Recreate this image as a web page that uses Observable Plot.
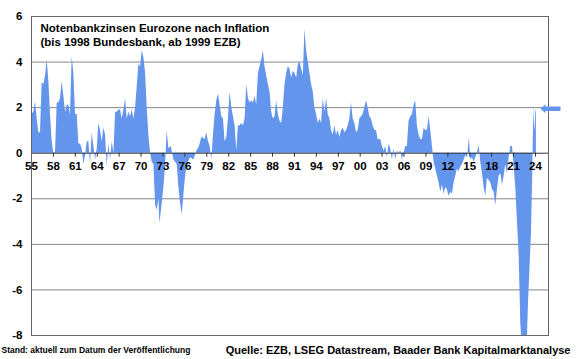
<!DOCTYPE html>
<html>
<head>
<meta charset="utf-8">
<script src="https://cdn.jsdelivr.net/npm/d3@7"></script>
<script src="https://cdn.jsdelivr.net/npm/@observablehq/plot@0.6"></script>
<style>
  html, body { margin: 0; padding: 0; background: #fff; }
</style>
</head>
<body>
<div id="chart"></div>
<script>
const titleLines = ["Notenbankzinsen Eurozone nach Inflation", "(bis 1998 Bundesbank, ab 1999 EZB)"];
const footLeft = "Stand: aktuell zum Datum der Veröffentlichung";
const footRight = "Quelle: EZB, LSEG Datastream, Baader Bank Kapitalmarktanalyse";

const tickYears = [1955,1958,1961,1964,1967,1970,1973,1976,1979,1982,1985,1988,1991,1994,1997,2000,2003,2006,2009,2012,2015,2018,2021,2024];
const tickLabels = ["55","58","61","64","67","70","73","76","79","82","85","88","91","94","97","00","03","06","09","12","15","18","21","24"];
const yTicks = [-8,-6,-4,-2,0,2,4,6];
const gridValues = [-6,-4,-2,2,4];
const currentRate = 1.95;

const years = [
1955.00,1955.32,1955.55,1955.78,1956.00,1956.23,1956.46,1956.69,1956.92,1957.15,1957.37,1957.60,1957.83,
1958.06,1958.29,1958.52,1958.74,1958.97,1959.20,1959.43,1959.66,1959.89,1960.11,1960.34,1960.57,1960.80,
1961.03,1961.26,1961.48,1961.71,1961.94,1962.17,1962.40,1962.63,1962.85,1963.08,1963.31,1963.54,1963.77,
1964.00,1964.22,1964.45,1964.68,1964.91,1965.14,1965.37,1965.59,1965.82,1966.05,1966.28,1966.51,1966.74,
1966.96,1967.19,1967.42,1967.65,1967.88,1968.10,1968.33,1968.56,1968.79,1969.02,1969.25,1969.47,1969.70,
1969.93,1970.16,1970.39,1970.62,1970.84,1971.07,1971.30,1971.53,1971.76,1971.99,1972.21,1972.44,1972.58,
1972.90,1973.13,1973.36,1973.58,1973.81,1974.13,1974.50,1974.95,1975.18,1975.41,1975.64,1975.87,1976.10,
1976.32,1976.78,1977.24,1977.64,1978.00,1978.32,1978.78,1979.00,1979.23,1979.46,1979.69,1979.91,1980.14,
1980.37,1980.60,1980.82,1981.05,1981.28,1981.51,1981.74,1981.96,1982.19,1982.42,1982.65,1982.87,1983.10,
1983.33,1983.56,1983.78,1984.01,1984.24,1984.47,1984.70,1984.92,1985.15,1985.38,1985.61,1985.83,1986.06,
1986.29,1986.52,1986.74,1986.97,1987.20,1987.43,1987.65,1987.88,1988.11,1988.34,1988.57,1988.79,1989.02,
1989.25,1989.48,1989.70,1989.93,1990.16,1990.39,1990.61,1990.84,1991.07,1991.30,1991.53,1991.75,1991.98,
1992.21,1992.44,1992.66,1992.89,1993.12,1993.35,1993.57,1993.80,1994.03,1994.26,1994.49,1994.71,1994.94,
1995.17,1995.40,1995.62,1995.85,1996.08,1996.31,1996.53,1996.76,1996.99,1997.22,1997.45,1997.67,1997.90,
1998.13,1998.36,1998.58,1998.81,1999.04,1999.27,1999.50,1999.72,1999.95,2000.18,2000.40,2000.63,2000.86,
2001.09,2001.32,2001.54,2001.77,2002.00,2002.23,2002.45,2002.81,2003.04,2003.27,2003.50,2003.72,2003.95,
2004.18,2004.41,2004.64,2004.86,2005.09,2005.32,2005.55,2005.78,2006.01,2006.23,2006.46,2006.69,2006.92,
2007.15,2007.38,2007.60,2007.83,2008.06,2008.29,2008.52,2008.75,2008.97,2009.20,2009.43,2009.66,2009.89,
2010.12,2010.35,2010.57,2010.80,2011.03,2011.26,2011.49,2011.71,2011.94,2012.17,2012.40,2012.63,2012.86,
2013.08,2013.31,2013.54,2013.77,2014.00,2014.23,2014.45,2014.70,2014.95,2015.14,2015.37,2015.60,2015.82,
2016.05,2016.28,2016.51,2016.74,2016.97,2017.19,2017.42,2017.65,2017.88,2018.11,2018.33,2018.56,2018.79,
2019.02,2019.25,2019.48,2019.71,2019.93,2020.16,2020.39,2020.62,2020.85,2021.08,2021.30,2021.53,2021.76,
2021.99,2022.20,2022.45,2022.70,2022.88,2023.05,2023.25,2023.45,2023.62,2023.72,2023.80,2023.88,2023.96,
2024.04,2024.12
];
const rates = [
1.7,1.8,2.25,1.5,0.9,0.9,3.1,3.0,3.4,4.1,3.2,1.7,0.5,
0.0,0.05,2.2,2.2,2.4,3.15,2.5,1.8,2.1,2.1,1.7,4.25,3.5,
1.7,1.7,0.4,0.4,0.2,-0.5,-0.1,0.5,0.5,-0.5,0.9,0.3,-0.3,
0.2,1.3,1.0,0.5,1.1,0.8,-0.6,0.4,-0.3,0.5,0.0,1.8,1.8,
1.9,1.9,1.5,1.9,2.4,1.5,1.8,1.6,1.9,1.5,2.0,2.9,3.9,
3.8,4.5,4.2,3.5,2.0,0.8,0.0,-0.4,-0.5,-2.3,-2.5,-2.0,-3.1,
-2.2,-1.5,-0.5,1.0,0.2,0.3,-0.3,-0.5,-1.5,-2.2,-2.7,-1.8,-1.0,
-0.5,-0.2,-0.3,0.1,0.3,0.7,0.6,0.9,0.5,0.3,-0.3,0.8,1.7,
2.3,2.6,2.1,1.6,1.5,0.5,0.7,1.5,2.7,2.0,1.6,1.2,0.1,
1.2,1.2,1.3,1.2,1.5,3.0,2.4,2.2,2.3,2.2,2.5,2.1,3.5,
3.8,4.1,4.5,3.8,3.4,3.0,2.7,1.8,1.5,1.6,2.3,1.7,1.4,
1.3,2.0,3.0,3.5,3.8,3.7,3.3,3.6,3.5,3.3,3.9,4.0,3.7,
3.4,5.45,4.5,4.0,3.5,3.0,2.7,2.0,1.7,1.3,1.5,1.3,2.4,
1.8,2.4,1.7,1.5,1.0,0.8,1.2,0.8,1.0,0.7,1.0,1.1,0.9,
1.0,1.2,1.5,2.2,1.5,1.3,0.9,1.0,1.5,1.6,1.7,2.0,2.3,
2.0,1.6,1.5,1.2,1.0,1.0,0.6,0.6,0.3,0.1,0.3,-0.2,0.4,
0.2,-0.3,0.2,-0.3,0.1,0.0,0.1,-0.3,0.0,0.3,0.3,1.4,1.6,
1.7,2.1,2.3,1.2,0.8,0.6,0.6,1.1,1.0,1.0,1.6,1.0,0.3,
-0.4,-0.7,-1.0,-1.3,-1.7,-1.4,-1.8,-1.5,-1.6,-1.9,-1.7,-1.8,-1.3,
-1.0,-0.7,-0.8,-0.6,-0.5,-0.3,-0.1,-0.2,0.7,-0.3,-0.2,-0.4,-0.2,
0.0,0.35,-0.4,-0.9,-1.5,-1.9,-1.1,-1.2,-1.3,-1.6,-1.7,-2.3,-1.6,
-1.0,-0.9,-1.4,-1.0,-0.5,-0.9,-0.2,0.3,0.3,-0.6,-1.5,-3.0,-4.5,
-7.5,-8.5,-9.0,-9.5,-8.3,-6.5,-5.0,-3.5,-1.0,1.0,2.1,1.0,1.2,
1.9,1.8
];

const data = years.map((year, i) => ({year, rate: rates[i]}));
const ticks = tickYears.map((year, i) => ({year, label: tickLabels[i]}));

const blue = "#6495ED";
const arrowSymbol = {
  draw(context) {
    context.moveTo(-10, 0);
    context.lineTo(-5, -4.5);
    context.lineTo(-5, -2.2);
    context.lineTo(10, -2.2);
    context.lineTo(10, 2.2);
    context.lineTo(-5, 2.2);
    context.lineTo(-5, 4.5);
    context.closePath();
  }
};

const chart = Plot.plot({
  width: 580,
  height: 359,
  marginLeft: 31,
  marginRight: 32,
  marginTop: 16,
  marginBottom: 24,
  x: {domain: [1955, 2025.78], axis: null},
  y: {domain: [-8, 6], axis: null},
  style: {
    fontFamily: "'Liberation Sans', Arial, sans-serif",
    fontSize: "11.5px",
    fontWeight: "bold",
    color: "#000",
    background: "#fff",
    overflow: "visible"
  },
  marks: [
    Plot.ruleY(gridValues, {stroke: "#858585", strokeWidth: 1}),
    Plot.areaY(data, {x: "year", y: "rate", fill: blue, clip: true}),
    Plot.ruleY([0], {stroke: "#333", strokeWidth: 1}),
    Plot.ruleX(ticks, {x: "year", y1: 0, y2: 0, insetBottom: -4, stroke: "#333"}),
    Plot.frame({stroke: "#666"}),
    Plot.axisY(yTicks, {label: null, tickSize: 0, tickPadding: 9, tickFormat: d => String(d), fontSize: 11.5, fontWeight: "bold"}),
    Plot.text(ticks, {x: "year", y: 0, text: "label", dy: 13.3, lineAnchor: "middle", fontSize: 11.5}),
    Plot.text([titleLines.join("\n")], {frameAnchor: "top-left", dx: 9, dy: 6, textAnchor: "start", lineAnchor: "top", lineHeight: 1.17, fontSize: 11.5}),
    Plot.text([footLeft], {frameAnchor: "bottom-left", dx: -30, dy: 15, textAnchor: "start", lineAnchor: "middle", fontSize: 8.5}),
    Plot.text([footRight], {frameAnchor: "bottom-right", dx: 22, dy: 15, textAnchor: "end", lineAnchor: "middle", fontSize: 11}),
    Plot.dot([currentRate], {y: d => d, frameAnchor: "right", dx: 2, symbol: arrowSymbol, fill: blue, stroke: null})
  ]
});
document.getElementById("chart").appendChild(chart);
</script>
</body>
</html>
